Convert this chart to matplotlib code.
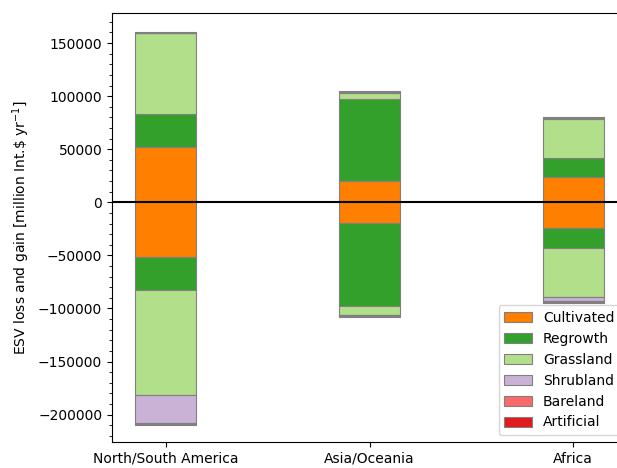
import matplotlib
matplotlib.use("Agg")
import matplotlib.pyplot as plt
import numpy as np
from matplotlib.ticker import MultipleLocator

regions = ["North/South America", "Asia/Oceania", "Africa"]
classes = ["Cultivated", "Regrowth", "Grassland", "Shrubland", "Bareland", "Artificial"]
colors = ["#ff7f00", "#33a02c", "#b2df8a", "#cab2d6", "#fb6a6a", "#e31a1c"]

# gains (positive) per class, per region
gain_cultivated = [52000, 20100, 24200]
gain_regrowth = [31000, 77500, 17400]
gain_grassland = [76300, 5700, 37100]
gain_shrubland = [400, 400, 400]
gain_bareland = [200, 200, 200]
gain_artificial = [700, 1000, 1000]

# losses (negative) per class, per region
loss_cultivated = [-51700, -19600, -24000]
loss_regrowth = [-31200, -78400, -18900]
loss_grassland = [-98500, -7800, -46600]
loss_shrubland = [-26800, -800, -3700]
loss_bareland = [-300, -300, -300]
loss_artificial = [-1200, -1500, -1600]

gains = [gain_cultivated, gain_regrowth, gain_grassland, gain_shrubland, gain_bareland, gain_artificial]
losses = [loss_cultivated, loss_regrowth, loss_grassland, loss_shrubland, loss_bareland, loss_artificial]

fig = plt.figure(figsize=(6.17, 4.68), dpi=100)
ax = fig.add_axes([112/617, 26/468, 515/617, 429/468])

x = np.arange(len(regions))
width = 0.3
pos_bottom = np.zeros(len(regions))
neg_bottom = np.zeros(len(regions))
for cls, col, g, l in zip(classes, colors, gains, losses):
    g = np.array(g, dtype=float)
    l = np.array(l, dtype=float)
    ax.bar(x, g, width, bottom=pos_bottom, color=col, edgecolor="grey", linewidth=0.8, label=cls)
    ax.bar(x, l, width, bottom=neg_bottom, color=col, edgecolor="grey", linewidth=0.8)
    pos_bottom += g
    neg_bottom += l

ax.axhline(0, color="black", linewidth=1.5)
ax.set_xticks(x)
ax.set_xticklabels(regions)
ax.set_xlim(-0.265, 2.265)
ax.set_ylim(-225800, 178300)
ax.yaxis.set_minor_locator(MultipleLocator(10000))
ax.set_ylabel(r"ESV loss and gain [million Int.\$ yr$^{-1}$]")
ax.legend(loc="lower right")

fig.savefig("out.png", dpi=100)
